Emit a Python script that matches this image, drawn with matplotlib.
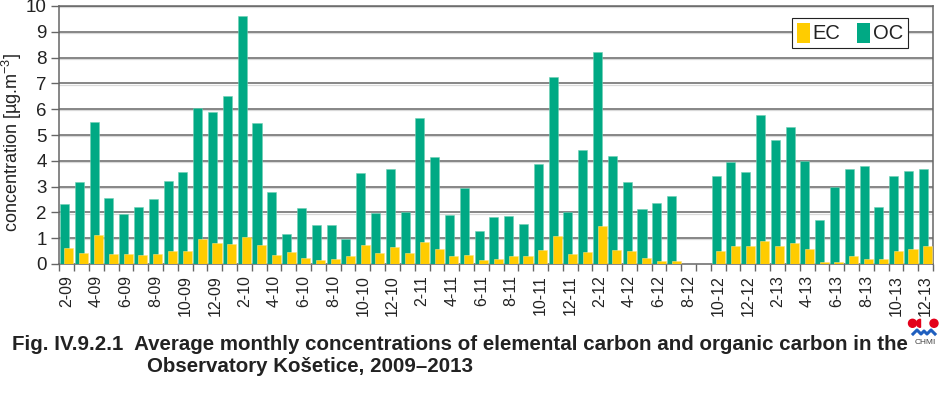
import numpy as np
import matplotlib
matplotlib.use("Agg")
import matplotlib.pyplot as plt
from matplotlib.patches import Patch, Circle, Wedge
from matplotlib.lines import Line2D

plt.rcParams['font.family'] = ['Liberation Sans', 'DejaVu Sans']
plt.rcParams['mathtext.fontset'] = 'custom'
plt.rcParams['mathtext.rm'] = 'Liberation Sans'
plt.rcParams['mathtext.it'] = 'Liberation Sans:italic'
plt.rcParams['mathtext.bf'] = 'Liberation Sans:bold'

months = ["2-09", "3-09", "4-09", "5-09", "6-09", "7-09", "8-09", "9-09", "10-09", "11-09", "12-09",
          "1-10", "2-10", "3-10", "4-10", "5-10", "6-10", "7-10", "8-10", "9-10", "10-10", "11-10", "12-10",
          "1-11", "2-11", "3-11", "4-11", "5-11", "6-11", "7-11", "8-11", "9-11", "10-11", "11-11", "12-11",
          "1-12", "2-12", "3-12", "4-12", "5-12", "6-12", "7-12", "8-12", "9-12", "10-12", "11-12", "12-12",
          "1-13", "2-13", "3-13", "4-13", "5-13", "6-13", "7-13", "8-13", "9-13", "10-13", "11-13", "12-13"]

oc = [2.33, 3.18, 5.50, 2.56, 1.94, 2.20, 2.52, 3.22, 3.58, 6.03, 5.88,
      6.51, 9.60, 5.48, 2.78, 1.16, 2.16, 1.51, 1.51, 0.98, 3.53, 1.98, 3.68,
      2.02, 5.65, 4.15, 1.89, 2.96, 1.28, 1.82, 1.86, 1.55, 3.88, 7.24, 2.00,
      4.42, 8.20, 4.19, 3.19, 2.13, 2.36, 2.64, np.nan, np.nan, 3.42, 3.97, 3.58,
      5.79, 4.79, 5.30, 3.99, 1.69, 3.00, 3.70, 3.80, 2.20, 3.40, 3.59, 3.70]

ec = [0.63, 0.44, 1.12, 0.39, 0.39, 0.35, 0.39, 0.52, 0.52, 0.98, 0.81,
      0.79, 1.05, 0.72, 0.36, 0.48, 0.25, 0.17, 0.21, 0.31, 0.72, 0.43, 0.67,
      0.43, 0.85, 0.57, 0.31, 0.35, 0.14, 0.19, 0.31, 0.31, 0.53, 1.07, 0.39,
      0.47, 1.47, 0.53, 0.49, 0.23, 0.12, 0.12, np.nan, np.nan, 0.50, 0.70, 0.68,
      0.89, 0.70, 0.80, 0.59, 0.09, 0.09, 0.30, 0.19, 0.19, 0.49, 0.59, 0.70]

yticks = [0, 1, 2, 3, 4, 5, 6, 7, 8, 9, 10]
ylabel = r"concentration [µg.m$^{\mathregular{-3}}$]"
caption1 = "Fig. IV.9.2.1  Average monthly concentrations of elemental carbon and organic carbon in the"
caption2 = "Observatory Košetice, 2009–2013"

OC_COLOR = "#00A984"
EC_COLOR = "#FFCC00"
TXT = "#222222"
GRID = "#666666"

W, H = 945, 393
fig = plt.figure(figsize=(W / 100, H / 100), dpi=100)
ax = fig.add_axes([59.3 / W, 1 - 264 / H, 873.7 / W, 258 / H])

x = np.arange(len(months))
bw = 0.61
ax.bar(x - 0.15, oc, width=bw, color=OC_COLOR, edgecolor="#6fd0b4", linewidth=0.4, zorder=3)
ax.bar(x + 0.15, ec, width=bw, color=EC_COLOR, edgecolor="#ffe27a", linewidth=0.4, zorder=4)

ax.set_xlim(-0.5, len(months) - 0.5)
ax.set_ylim(0, 10)
ax.set_yticks(yticks)
ax.set_yticklabels([str(v) for v in yticks], fontsize=13.5, color=TXT)
for v in yticks[1:]:
    ax.axhline(v, color=GRID, lw=1.1, zorder=1)
    ax.axhline(v - 0.045, color="#d9d9d9", lw=0.9, zorder=0.9)

# category boundary ticks
ax.set_xticks(np.arange(len(months) + 1) - 0.5)
ax.set_xticklabels([])
ax.tick_params(axis='x', which='major', length=5, color=GRID, width=1)
# labels at every second category
lab_idx = list(range(0, len(months), 2))
ax.set_xticks(lab_idx, minor=True)
ax.set_xticklabels([months[i] for i in lab_idx], minor=True, rotation=90,
                   fontsize=11.5, color=TXT)
ax.tick_params(axis='x', which='minor', length=0, pad=8)
ax.tick_params(axis='y', length=6, color=GRID, width=1, pad=3)

for s in ['left', 'bottom', 'right', 'top']:
    ax.spines[s].set_color(GRID)
    ax.spines[s].set_linewidth(1.1)

ax.set_ylabel(ylabel, fontsize=13, color=TXT)
ax.yaxis.set_label_coords(-0.0400, 0.47)

handles = [Patch(facecolor=EC_COLOR, edgecolor="none"), Patch(facecolor=OC_COLOR, edgecolor="none")]
leg = ax.legend(handles, ["EC", "OC"], loc="upper right", bbox_to_anchor=(0.9715, 0.955),
                ncol=2, fontsize=14.5, frameon=True, fancybox=False, framealpha=1,
                edgecolor="#222222", handlelength=0.65, handleheight=1.15, handletextpad=0.15,
                columnspacing=0.8, borderpad=0.25, borderaxespad=0)
leg.get_frame().set_linewidth(0.8)
leg.set_zorder(10)
for t in leg.get_texts():
    t.set_color(TXT)

# caption
t1 = fig.text(12 / W, 1 - 350 / H, caption1, fontsize=14.5, fontweight='bold', color=TXT, va='baseline')
fig.canvas.draw()
w = t1.get_window_extent(fig.canvas.get_renderer()).width
fs = 14.5 * 896.0 / w
t1.set_fontsize(fs)
fig.text(147 / W, 1 - 372 / H, caption2, fontsize=fs, fontweight='bold', color=TXT, va='baseline')

# CHMI logo
tr = fig.dpi_scale_trans
def px(xp, yp):
    return (xp / 100.0, (H - yp) / 100.0)
fig.add_artist(Circle(px(912.5, 323.3), 0.04, transform=tr, color="#e3001b", zorder=20))
fig.add_artist(Wedge(px(920.5, 323.3), 0.04, 90, 270, transform=tr, color="#e3001b", zorder=20))
fig.add_artist(Circle(px(934.0, 323.3), 0.04, transform=tr, color="#e3001b", zorder=20))
wx = np.array([913, 917, 921, 924, 927, 931, 935])
wy = np.array([334, 330, 334, 331, 334, 330, 334])
fig.add_artist(Line2D(wx / 100.0, (H - wy) / 100.0, transform=tr, color="#1f5fbf", lw=2.2, zorder=20))
fig.text(925 / W, 1 - 343 / H, "CHMI", fontsize=6.0, color="#444444", ha='center', va='center')

fig.savefig("out.png", dpi=100)
